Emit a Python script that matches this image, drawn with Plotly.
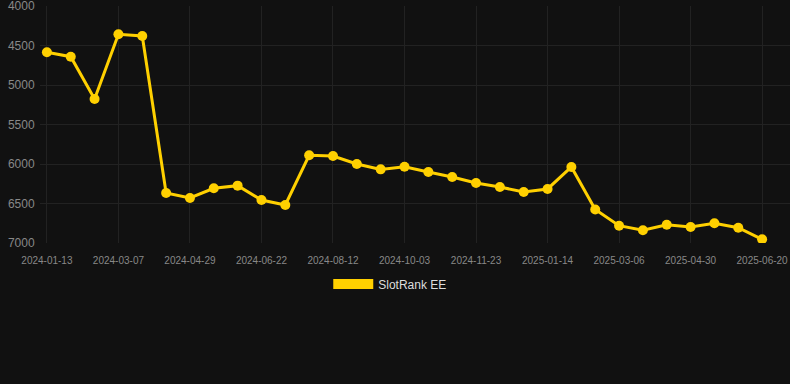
import plotly.graph_objects as go

dates = ["2024-01-13", "2024-01-31", "2024-02-18", "2024-03-07", "2024-03-25", "2024-04-11",
         "2024-04-29", "2024-05-17", "2024-06-04", "2024-06-22", "2024-07-09", "2024-07-26",
         "2024-08-12", "2024-08-29", "2024-09-16", "2024-10-03", "2024-10-20", "2024-11-06",
         "2024-11-23", "2024-12-10", "2024-12-27", "2025-01-14", "2025-01-31", "2025-02-17",
         "2025-03-06", "2025-03-24", "2025-04-12", "2025-04-30", "2025-05-17", "2025-06-03",
         "2025-06-20"]
ranks = [4586, 4642, 5177, 4358, 4380, 6367, 6430, 6308, 6274, 6456, 6519, 5890, 5899, 6000,
         6068, 6034, 6101, 6165, 6241, 6291, 6354, 6316, 6038, 6575, 6781, 6839, 6768, 6797,
         6751, 6806, 6953]
tick_labels = dates[::3]
y_ticks = [4000, 4500, 5000, 5500, 6000, 6500, 7000]
series_name = "SlotRank EE"

gold = "#FFD000"
fig = go.Figure()
fig.add_trace(go.Scatter(
    x=dates, y=ranks, mode="lines+markers", showlegend=False,
    line=dict(color=gold, width=3),
    marker=dict(color=gold, size=10),
))
fig.add_trace(go.Scatter(
    x=[None], y=[None], mode="lines", name=series_name,
    line=dict(color=gold, width=12),
))

fig.update_layout(
    width=790, height=384,
    paper_bgcolor="#111111", plot_bgcolor="#111111",
    margin=dict(l=40, r=0, t=6, b=141),
    font=dict(family="Liberation Sans, Arial, sans-serif", color="#888888"),
    legend=dict(orientation="h", xref="container", yref="container",
                x=0.494, xanchor="center", y=0.298, yanchor="top",
                font=dict(size=12, color="#dddddd"), itemwidth=40),
    xaxis=dict(type="category", range=[-0.29, 31.17], tickmode="array",
               tickvals=tick_labels, ticktext=tick_labels,
               showgrid=True, gridcolor="#222222", zeroline=False,
               tickfont=dict(size=10, color="#888888"),
               ticks="outside", ticklen=8, tickcolor="rgba(0,0,0,0)", showline=False),
    yaxis=dict(range=[7000, 4000], tickmode="array", tickvals=y_ticks,
               showgrid=True, gridcolor="#222222", zeroline=False, automargin=False,
               tickfont=dict(size=12, color="#888888"), ticklabeloverflow="allow",
               ticks="outside", ticklen=2, tickcolor="rgba(0,0,0,0)", showline=False),
)

fig.write_html("out.html", config={"displayModeBar": False},
               post_script="document.body.style.margin='0';document.body.style.background='#111111';")
